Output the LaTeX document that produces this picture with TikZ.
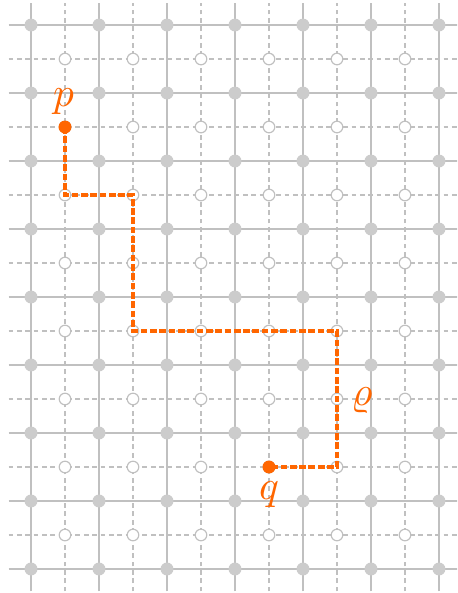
\documentclass[tikz,border=0pt]{standalone}
\usepackage{amsmath, amssymb}
\usepackage{unicode-math}
\setmathfont{Latin Modern Math}
\usepackage{tikz}
\definecolor{pathorange}{RGB}{255,102,0}
\definecolor{gridgray}{RGB}{192,192,192}
\definecolor{dotgray}{RGB}{204,204,204}

\begin{document}
\begin{tikzpicture}
    \useasboundingbox (-0.456,-0.353) rectangle (6.265,8.368);

    \begin{scope}
    \clip (-0.456,-0.353) rectangle (6.265,8.368);
    % Draw dashed grid
    \foreach \x in {0.5,1.5,...,5.5}
        \draw[gridgray, line width=0.45pt, dash pattern=on 2pt off 1.5pt] (\x,-0.33) -- (\x,8.33);
    \foreach \y in {0.5,1.5,...,7.5}
        \draw[gridgray, line width=0.45pt, dash pattern=on 2pt off 1.5pt] (-0.33,\y) -- (6.33,\y);

    % Draw solid grid
    \foreach \x in {0,...,6}
        \draw[gridgray, line width=0.8pt] (\x,-0.33) -- (\x,8.33);
    \foreach \y in {0,...,8}
        \draw[gridgray, line width=0.8pt] (-0.33,\y) -- (6.33,\y);

    % Markers on the grid
    \foreach \x in {0,...,6}
        \foreach \y in {0,...,8}
            \fill[dotgray] (\x,\y) circle (0.095);
    \foreach \x in {0.5,1.5,...,5.5}
        \foreach \y in {0.5,1.5,...,7.5}
            \filldraw[fill=white, draw=gridgray, line width=0.5pt] (\x,\y) circle (0.085);
    \end{scope}

    % Draw path from p to q
    \coordinate (P) at (0.5,6.5);
    \coordinate (Q) at (3.5,1.5);
    \draw[pathorange, line width=1.3pt, dash pattern=on 2.8pt off 1.1pt]
        (P) -- (0.5,5.5) -- (1.5,5.5) -- (1.5,3.5) -- (4.5,3.5) -- (4.5,1.5) -- (Q);

    \fill[pathorange] (P) circle (0.095);
    \fill[pathorange] (Q) circle (0.095);
    \node[pathorange, font=\LARGE] (plabel) at (0.49,6.87) {$p$};
    \node[pathorange, font=\LARGE] (qlabel) at (3.5,1.1) {$q$};
    \node[pathorange, font=\LARGE] (rholabel) at (4.87,2.48) {$\varrho$};

\end{tikzpicture}
\end{document}
